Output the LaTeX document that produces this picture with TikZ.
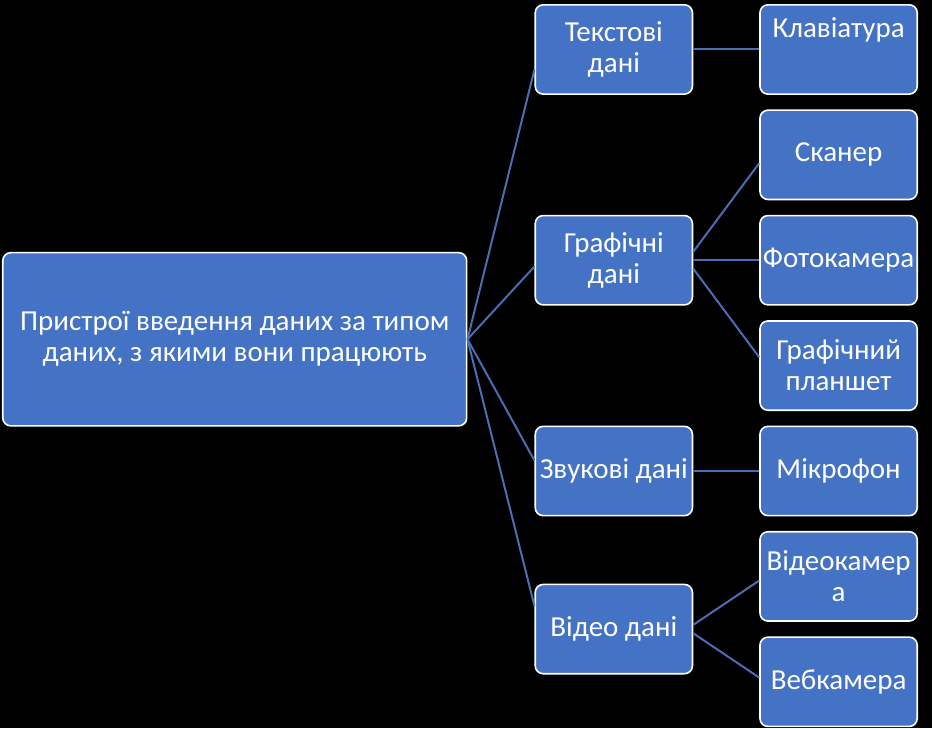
\documentclass[tikz,border=0pt]{standalone}
\usepackage{fontspec}
\setmainfont{Carlito}
\usetikzlibrary{positioning, calc, backgrounds}
\definecolor{boxblue}{HTML}{4472C4}
\definecolor{linkblue}{HTML}{4A6EB5}

\begin{document}
\begin{tikzpicture}[
    box/.style={rectangle, rounded corners=4pt, draw=white, line width=0.8pt, fill=boxblue, text=white, minimum width=78.7pt, minimum height=44.7pt, align=center, inner sep=1pt, font=\fontsize{14.5}{15.5}\selectfont},
    rootbox/.style={box, minimum width=232.2pt, minimum height=86.7pt},
    link/.style={draw=linkblue, line width=1pt},
    node distance=7.25pt
]

% devices
\node[box] (klav) {Клавіатура\\[6pt]~};
\node[box, below=of klav] (scan) {Сканер};
\node[box, below=of scan] (foto) {Фотокамера};
\node[box, below=of foto] (plan) {Графічний\\планшет};
\node[box, below=of plan] (mikro) {Мікрофон};
\node[box, below=of mikro] (vcam) {Відеокамер\\а};
\node[box, below=of vcam] (veb) {Вебкамера};

% data types
\node[box, left=33pt of klav] (tekst) {Текстові\\дані};
\node[box, left=33pt of foto] (graf) {Графічні\\дані};
\node[box, left=33pt of mikro] (zvuk) {Звукові дані};
\coordinate (vmid) at ($(vcam.west)!0.5!(veb.west)$);
\node[box, left=33pt of vmid] (video) {Відео дані};

% root
\coordinate (rmid) at ($(tekst.west)!0.5!(video.west)$);
\node[rootbox, left=33.5pt of rmid] (root) {Пристрої введення даних за типом\\даних, з якими вони працюють};

\draw[link] (root.east) -- ($(tekst.west)!.07!(tekst.west |- root.east)$);
\draw[link] (root.east) -- ($(graf.west)!.08!(graf.west |- root.east)$);
\draw[link] (root.east) -- ($(zvuk.west)!.08!(zvuk.west |- root.east)$);
\draw[link] (root.east) -- ($(video.west)!.08!(video.west |- root.east)$);

\draw[link] (tekst.east) -- (klav.west);
\draw[link] ($(graf.east)!.08!(graf.east |- scan.west)$) -- ($(scan.west)!.08!(scan.west |- graf.east)$);
\draw[link] (graf.east) -- (foto.west);
\draw[link] ($(graf.east)!.08!(graf.east |- plan.west)$) -- ($(plan.west)!.08!(plan.west |- graf.east)$);
\draw[link] (zvuk.east) -- (mikro.west);
\draw[link] ($(video.east)!.08!(video.east |- vcam.west)$) -- ($(vcam.west)!.08!(vcam.west |- video.east)$);
\draw[link] ($(video.east)!.08!(video.east |- veb.west)$) -- ($(veb.west)!.08!(veb.west |- video.east)$);

\begin{scope}[on background layer]
\fill[black] ($(root.west |- veb.south)+(-1pt,-0.5pt)$) rectangle ($(klav.north east)+(7pt,2pt)$);
\end{scope}

\end{tikzpicture}
\end{document}
